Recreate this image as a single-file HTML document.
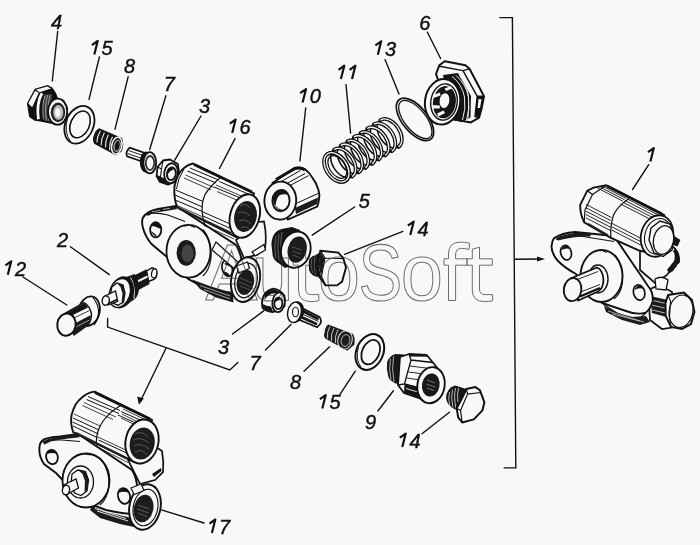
<!DOCTYPE html>
<html><head><meta charset="utf-8"><style>
html,body{margin:0;padding:0;background:#f8f8f8;width:700px;height:545px;overflow:hidden}
svg{position:absolute;left:0;top:0;filter:grayscale(1)}
.lb{font-family:"Liberation Sans",sans-serif;font-style:italic;font-size:20px;fill:#111;stroke:#111;stroke-width:0.45}
.ld{stroke:#111;stroke-width:1.4;fill:none;stroke-linecap:round}
.wm text{font-family:"Liberation Sans",sans-serif;font-size:79px;fill:none;stroke:#6e6e6e;stroke-width:1}
.wm path{fill:none;stroke:#6e6e6e;stroke-width:1}
.o{stroke:#111;stroke-width:1.6;fill:#f8f8f8;stroke-linejoin:round}
.k{fill:#1a1a1a;stroke:none}
.t{stroke:#111;stroke-width:1;fill:none}
</style></head><body>
<svg width="700" height="545" viewBox="0 0 700 545">
<!-- watermark -->


<!-- PARTS -->
<g id="p4">
 <path fill="#111" d="M26.9 103.4 L34.7 88.7 L47.5 85 L52.3 87.6 L56 93 L58 98.3 L64 100 L68 108 L67.5 116 L63 123.5 L57 125.3 L50 123.5 L40 121.5 L34.7 120.8 L29.2 117 Z"/>
 <path fill="#f8f8f8" d="M35.8 89.8 L47.2 86.4 L51 88.5 L39.6 92.2 Z"/>
 <path fill="#f8f8f8" d="M28.3 103.4 L35 91 L38.8 92.8 L32.2 107.2 Z"/>
 <path fill="none" stroke="#f8f8f8" stroke-width="2.8" d="M42 93.2 Q36.2 103 38.4 119.2"/>
 <path fill="#3a3a3a" d="M44.5 94.5 L52 94 L53 121.5 L45 121 Q41.5 108 44.5 94.5 Z"/>
 <path fill="none" stroke="#aaa" stroke-width="0.9" d="M45 95.5 Q41.5 106 43.5 119.5 M47.5 95 Q44.5 106 46.3 120.5 M50 95 Q47.2 106 49 121"/>
 <ellipse cx="57.6" cy="111.7" rx="9.6" ry="13" fill="#f8f8f8" stroke="#111" stroke-width="1.8"/>
 <ellipse cx="58" cy="112.4" rx="7.2" ry="9.8" fill="#222"/>
 <ellipse cx="58.3" cy="112.4" rx="5" ry="7.4" fill="#bbb"/>
 <ellipse cx="57.8" cy="112.6" rx="2.6" ry="4.4" fill="#f8f8f8"/>
</g>
<g id="p15a">
 <ellipse cx="79.4" cy="124.8" rx="14" ry="19.6" transform="rotate(24 79.4 124.8)" fill="none" stroke="#111" stroke-width="1.8"/>
 <ellipse cx="80" cy="124.4" rx="9.4" ry="14" transform="rotate(24 80 124.4)" fill="none" stroke="#111" stroke-width="1.6"/>
 <path fill="none" stroke="#111" stroke-width="1.0" d="M67.5 118 Q63.5 132 70.5 141.5"/>
</g>
<g id="p8a">
 <path fill="#151515" d="M99.1 128.3 L122.1 138 Q124.8 145 121.5 151.7 L115.5 155.3 L94.2 143.8 Q92 139 93.6 135.9 Q95 130.5 99.1 128.3 Z"/>
 <g fill="none" stroke="#eee" stroke-width="1.1" stroke-linecap="round">
  <path d="M100.2 131.2 Q97 137 96.9 142"/>
  <path d="M104.2 133 Q101 139 101.2 145"/>
  <path d="M108.2 135 Q105.2 141 105.5 147"/>
  <path d="M112.3 137.3 Q109.3 143 109.7 149.8"/>
 </g>
 <ellipse cx="116.8" cy="145.6" rx="5.2" ry="8.6" transform="rotate(12 116.8 145.6)" fill="none" stroke="#eee" stroke-width="1.2"/>
 <ellipse cx="117.2" cy="145.8" rx="3.2" ry="5.8" transform="rotate(12 117.2 145.8)" fill="none" stroke="#aaa" stroke-width="0.9"/>
</g>
 <ellipse cx="116.8" cy="145.6" rx="5" ry="8.4" transform="rotate(12 116.8 145.6)" fill="none" stroke="#f0f0f0" stroke-width="1.1"/>
 <ellipse cx="117.2" cy="145.8" rx="2.8" ry="5.4" transform="rotate(12 117.2 145.8)" fill="none" stroke="#999" stroke-width="0.9"/>
</g>
<g id="p7a">
 <path fill="#f8f8f8" stroke="#111" stroke-width="1.7" d="M129.6 147.6 L144.2 152.7 L141.2 161.2 L127 156.2 Q125 152 129.6 147.6 Z"/>
 <path fill="none" stroke="#111" stroke-width="0.9" d="M128.5 150.5 L143 155.5 M127.5 153.5 L142 158.5"/>
 <ellipse cx="146" cy="162" rx="6.2" ry="10.6" fill="#111"/>
 <ellipse cx="149.8" cy="162.8" rx="6.4" ry="10.6" fill="#f8f8f8" stroke="#111" stroke-width="1.8"/>
 <ellipse cx="150" cy="163" rx="4.2" ry="7" fill="none" stroke="#333" stroke-width="1.8"/>
 <circle cx="149.4" cy="163.3" r="1.8" fill="#f8f8f8"/>
</g>
<g id="p3a">
 <path fill="#f8f8f8" stroke="#111" stroke-width="1.8" stroke-linejoin="round" d="M157.5 167 L163 160.5 L170 159.5 L177.8 164 L179 172 L176.5 181 L168 184.6 L160 182 L156.6 176 Z"/>
 <path fill="#161616" d="M156.6 176 L160 182 L168 184.6 L167 180 L160.5 176.5 Z"/>
 <path fill="none" stroke="#111" stroke-width="1.1" d="M157.5 167 L161.5 169 L163 160.5 M161.5 169 L160.5 176.5 L156.6 176"/>
 <ellipse cx="171" cy="173.2" rx="6.8" ry="10" transform="rotate(8 171 173.2)" fill="#f8f8f8" stroke="#111" stroke-width="1.8"/>
 <ellipse cx="171.4" cy="173.8" rx="4.4" ry="6.4" transform="rotate(8 171.4 173.8)" fill="#f8f8f8" stroke="#111" stroke-width="1.9"/>
 <path fill="#111" d="M167.3 172 Q168.5 167.6 172 167.6 L173.5 170 Q170 170 167.5 175 Z"/>
</g>

<g id="p16">
 <!-- lug behind right -->
 <path fill="#f8f8f8" stroke="#111" stroke-width="1.7" d="M236 240 L258 222 L264 221.5 Q267 235 265 248 L257 255 L244 258 Z"/>
 <path fill="none" stroke="#111" stroke-width="1.0" d="M256 250 L263 246"/>
 <!-- flange plate -->
 <path fill="#f8f8f8" stroke="#111" stroke-width="1.9" d="M143 228 Q140.5 219 145 215 Q150 210.5 158 209 L176 206 L236 245 Q241 252 241.6 262 Q242 272 238 282 L232 292.5 Q220 293 205 287 L191 280.5 Q186 278 184 274 L166.4 256.5 L151.5 244 Q145.5 237 143 228 Z"/>
 <path fill="none" stroke="#111" stroke-width="1.2" d="M144.5 215.5 Q150 213 153 213.2 Q160 213 168 215 L185 221.5"/>
 <path fill="#1a1a1a" d="M146.5 214 Q150 211 155 210 L166 208 L176 206.5 L177 209 L166 211 L156 212.5 Q151 213.5 148 216 Z"/>
 <path fill="none" stroke="#ddd" stroke-width="0.7" d="M152 211.8 L160 210.3 M163 209.4 L170 208.3"/>
 <path fill="none" stroke="#111" stroke-width="1.3" d="M187 278 Q200 287 214 292 L231 296"/>
 <path fill="#1a1a1a" d="M192 279.5 L211 286.5 L233 293 L233.5 302.5 L216 297.5 L200 289 Z"/>
 <path fill="none" stroke="#ddd" stroke-width="0.7" d="M200 285.5 L230 296 M204 289.5 L230 299"/>
 <!-- small hole left -->
 <ellipse cx="155.7" cy="229.8" rx="5.6" ry="7.6" fill="#f8f8f8" stroke="#111" stroke-width="1.8"/>
 <path fill="#111" d="M151 226 Q153 222.5 157 222.7 Q160.6 224 161 229 L158.5 228 Q155 226 151 226 Z"/>
 <path fill="#111" d="M151 231 Q153 236 158 237 L155 234 Z"/>
 <!-- boss -->
 <ellipse cx="188.5" cy="251.2" rx="22" ry="26.4" fill="#f8f8f8" stroke="#111" stroke-width="1.8"/>
 <path fill="none" stroke="#111" stroke-width="1.2" d="M203 229.5 Q212 240 211 258 Q209.5 270 203 276"/>
 <path fill="none" stroke="#111" stroke-width="1.0" d="M184 226 L188 225.5 M191 226 L195 227.5"/>
 <ellipse cx="186.2" cy="252.9" rx="9.6" ry="12.8" fill="#1a1a1a"/>
 <ellipse cx="187.5" cy="253.5" rx="6" ry="9" fill="#444"/>
 <!-- right small hole -->
 <ellipse cx="227.2" cy="268.4" rx="5" ry="8" transform="rotate(-15 227.2 268.4)" fill="#f8f8f8" stroke="#111" stroke-width="1.7"/>
 <path fill="#111" d="M224 264 Q227 261 231 263 L232 268 Q228 265 224 264 Z"/>
 <path fill="#111" d="M223.5 271 Q225 276 230 276.5 L228 273 Z"/>
 <!-- bottom fitting -->
 <path fill="#f8f8f8" stroke="#111" stroke-width="1.2" d="M216 242 L240 264 L236 270 L212 250 Z"/>
 <ellipse cx="245.5" cy="279.6" rx="14.2" ry="22.6" transform="rotate(11.5 245.5 279.6)" fill="#f8f8f8" stroke="#111" stroke-width="1.9"/>
 <ellipse cx="246" cy="280.5" rx="11" ry="17.5" transform="rotate(11.5 246 280.5)" fill="none" stroke="#111" stroke-width="1.2"/>
 <ellipse cx="245.4" cy="282.4" rx="8.6" ry="12.6" transform="rotate(11.5 245.4 282.4)" fill="#1c1c1c"/>
 <path fill="none" stroke="#666" stroke-width="0.7" d="M240 278 L252 283 M239 282 L251 287 M240 286 L250 290"/>
 <path fill="#f8f8f8" stroke="#111" stroke-width="1.2" d="M236.5 266 L247.5 262 L249.5 268.5 L238.5 273 Z"/>
 <path fill="#f8f8f8" stroke="#111" stroke-width="1.3" d="M252 252 L264 244.5 L265.5 250 L255 256 Z"/>
 <!-- cylinder -->
 <path fill="#f8f8f8" stroke="#111" stroke-width="1.9" d="M193 163.5 L254 193.5 L236 237 L177 207 Q173.5 197 174.5 186 Q177.5 173 184 168 Q188 164.5 193 163.5 Z"/>
 <path fill="none" stroke="#111" stroke-width="3.0" d="M194 164.5 L252 192"/>
 <path fill="none" stroke="#111" stroke-width="1.0" d="M190 168 L218.6 180 M187.5 171 L216 183 M214 187 L250 202 M219.3 181.5 L254 196.5 M175.5 190 L203 201.5 M175 195 L202.5 207 M175.2 200 L202.5 211.5 M203 212 L237 227 M203 216 L236 231 M203.5 220.5 L236 235"/>
 <path fill="none" stroke="#111" stroke-width="1.2" d="M220 178 Q211 185 205 194.6 Q200.5 205 202.8 216.4 Q203.5 222 205.5 226.5"/>
 <path fill="none" stroke="#111" stroke-width="1.0" d="M184 169 Q177.5 179 176.5 189"/>
 <path fill="none" stroke="#222" stroke-width="2.4" d="M178 208 L230 232.5"/>
 <path fill="none" stroke="#111" stroke-width="0.8" d="M185.5 175 L214 187.5 M184 178 L211 190 M217 191.5 L246 204 M176 205 L202 216.5 M203.5 225 L234 239 M216 185 L247 198.5"/>
 <ellipse cx="244.8" cy="216" rx="14.6" ry="22.2" transform="rotate(16 244.8 216)" fill="#f8f8f8" stroke="#111" stroke-width="1.9"/>
 <ellipse cx="245.5" cy="216.5" rx="11.2" ry="15.6" transform="rotate(12 245.5 216.5)" fill="#1c1c1c"/>
 <path fill="none" stroke="#666" stroke-width="0.8" d="M240 206 Q246 202 250 208 M238 213 Q244 210 250 216 M239 221 Q245 218 251 224 M241 228 Q246 225 250 230"/>
</g>

<g id="p10">
 <path fill="#f8f8f8" stroke="#111" stroke-width="1.9" d="M272.5 183 L294.6 167.8 Q300 166.5 305.3 169.5 Q309.5 172.5 312.5 177.9 Q317 184 318.4 189.8 Q320 195 319 199.4 Q318.5 203.5 317.2 206.5 L288 219.5 Z"/>
 <path fill="none" stroke="#111" stroke-width="3.0" d="M276 179.5 L295 168.5 Q301 167 305 170"/>
 <path fill="none" stroke="#111" stroke-width="1.0" d="M281 181.6 L300.5 170.4 M285 184.6 L305.3 173.3 M288 186.6 L308.5 175.6"/>
 <path fill="#1c1c1c" d="M295 208 L318 197.5 Q318 201 317 204 L296 214 Z"/>
 <path fill="none" stroke="#111" stroke-width="1.0" d="M295.5 203.8 L318.3 193.4"/>
 <ellipse cx="280.3" cy="200.6" rx="15.9" ry="19" transform="rotate(4 280.3 200.6)" fill="#f8f8f8" stroke="#111" stroke-width="1.9"/>
 <ellipse cx="281" cy="200.6" rx="8.6" ry="10.6" transform="rotate(4 281 200.6)" fill="#f8f8f8" stroke="#111" stroke-width="1.9"/>
 <path fill="#161616" d="M273 199 Q273.5 191.5 280 190.5 Q286 190.5 288.5 195 Q284 193.5 280 195 Q276.5 197 275.5 206 Q273 204 273 199 Z"/>
 <path fill="none" stroke="#111" stroke-width="1.0" d="M275.5 206 Q278 210 283 210.5"/>
</g>
<g id="p5">
 <path fill="#161616" d="M271.4 244.3 Q272 236 275.3 232.7 Q278 229.5 281.7 228.9 L292 226.9 L300 230 L302 262 L285 268 L279.1 263.6 Q274 261 272.7 255.8 Z"/>
 <path fill="none" stroke="#777" stroke-width="0.8" d="M276 236 Q273.5 246 276 258 M279 234 Q276.5 246 279 260 M282 232 Q279.5 245 282 262"/>
 <ellipse cx="295.8" cy="249.7" rx="14.6" ry="18.3" transform="rotate(14 295.8 249.7)" fill="#f8f8f8" stroke="#111" stroke-width="1.9"/>
 <ellipse cx="297.2" cy="249.6" rx="9.4" ry="13.4" transform="rotate(14 297.2 249.6)" fill="#1c1c1c"/>
 <path fill="none" stroke="#666" stroke-width="0.7" d="M292 247 L302 250 M292 251 L301 254 M293 255 L300 258"/>
</g>
<g id="p14a">
 <path fill="#161616" d="M308.7 262 Q310 256 315 255.5 L322 251 L325 284 L318 277 Q311 276 309 270 Z"/>
 <path fill="none" stroke="#777" stroke-width="0.7" d="M312 258 Q310 265 312.5 273 M315 256.5 Q313 265 315.5 275"/>
 <path fill="#f8f8f8" stroke="#111" stroke-width="1.9" d="M320.3 250.7 L338.3 252.6 L343.4 258.4 L346 267.4 L342.1 281.6 L337 285.4 L325.4 285.4 L320.3 277.7 L317.7 266.1 Z"/>
 <path fill="none" stroke="#111" stroke-width="1.2" d="M321 251.5 L325 258 L339 258.5 L343.5 258.6 M325 258 L321.5 276.5 L325.5 285"/>
 <path fill="#1a1a1a" d="M320.5 252 L324.6 258.5 L321.2 276 L318.5 266 Z"/>
</g>

<g id="p11">
 <path fill="none" stroke="#111" stroke-width="1.5" d="M398.6 146.9 A16.2 10.4 56 0 1 380.4 120.1 M391.9 151.2 A16.2 10.4 56 0 1 373.8 124.3 M385.3 155.4 A16.2 10.4 56 0 1 367.2 128.5 M378.7 159.6 A16.2 10.4 56 0 1 360.6 132.8 M372.1 163.9 A16.2 10.4 56 0 1 353.9 137.0 M365.4 168.1 A16.2 10.4 56 0 1 347.3 141.3 M358.8 172.4 A16.2 10.4 56 0 1 340.7 145.5 M352.2 176.6 A16.2 10.4 56 0 1 334.1 149.7 M345.6 180.8 A16.2 10.4 56 0 1 327.4 154.0"/>
 <path fill="none" stroke="#111" stroke-width="3.8" stroke-linecap="round" d="M380.4 120.1 A16.2 10.4 56 0 1 398.6 146.9 M373.8 124.3 A16.2 10.4 56 0 1 391.9 151.2 M367.2 128.5 A16.2 10.4 56 0 1 385.3 155.4 M360.6 132.8 A16.2 10.4 56 0 1 378.7 159.6 M353.9 137.0 A16.2 10.4 56 0 1 372.1 163.9 M347.3 141.3 A16.2 10.4 56 0 1 365.4 168.1 M340.7 145.5 A16.2 10.4 56 0 1 358.8 172.4 M334.1 149.7 A16.2 10.4 56 0 1 352.2 176.6 M327.4 154.0 A16.2 10.4 56 0 1 345.6 180.8"/>
 <path fill="none" stroke="#f4f4f4" stroke-width="1.3" d="M380.4 120.1 A16.2 10.4 56 0 1 398.6 146.9 M373.8 124.3 A16.2 10.4 56 0 1 391.9 151.2 M367.2 128.5 A16.2 10.4 56 0 1 385.3 155.4 M360.6 132.8 A16.2 10.4 56 0 1 378.7 159.6 M353.9 137.0 A16.2 10.4 56 0 1 372.1 163.9 M347.3 141.3 A16.2 10.4 56 0 1 365.4 168.1 M340.7 145.5 A16.2 10.4 56 0 1 358.8 172.4 M334.1 149.7 A16.2 10.4 56 0 1 352.2 176.6 M327.4 154.0 A16.2 10.4 56 0 1 345.6 180.8"/>
 <ellipse cx="336.5" cy="167.4" rx="16.2" ry="10.4" transform="rotate(56 336.5 167.4)" fill="none" stroke="#111" stroke-width="3.8"/>
 <ellipse cx="336.5" cy="167.4" rx="16.2" ry="10.4" transform="rotate(56 336.5 167.4)" fill="none" stroke="#f4f4f4" stroke-width="1.3"/>
 <ellipse cx="337.3" cy="167" rx="12.6" ry="7.6" transform="rotate(56 337.3 167)" fill="none" stroke="#111" stroke-width="1.2"/>
</g>
<g id="p13">
 <ellipse cx="415" cy="119.4" rx="25.3" ry="12.6" transform="rotate(51 415 119.4)" fill="none" stroke="#111" stroke-width="1.7"/>
 <ellipse cx="415.3" cy="119.6" rx="23" ry="10.6" transform="rotate(51 415.3 119.6)" fill="none" stroke="#111" stroke-width="1.3"/>
</g>
<g id="p6">
 <path fill="#f8f8f8" stroke="#111" stroke-width="2.0" stroke-linejoin="round" d="M439.3 65.3 L444.8 61.2 L465.4 65.3 L469.5 68.8 L484 96.3 L481.5 109 L479.1 117.6 L470.9 122.4 L452 119 L436 74 Z"/>
 <path fill="none" stroke="#111" stroke-width="1.4" d="M439.6 66.2 L463 70.6 L469.5 68.8 M463 70.6 L477.2 96.2 L484 96.3 M477.2 96.2 L475 116.5 L479.1 117.6"/>
 <path fill="#111" d="M477.2 96.2 L484 96.3 L481.5 109 L479.1 117.6 L475 116.5 Z"/>
 <path fill="#f8f8f8" d="M478.5 99 L481.5 99.2 L480 108 L477.6 108 Z"/>
 <path fill="#151515" d="M443 75 L458 73 L471 96 L470.5 117.5 L462 122 L452 120 Z"/>
 <path fill="none" stroke="#e8e8e8" stroke-width="1.0" d="M452 76.5 Q462 84 464.5 97 Q466 109 462.5 120 M456 75.5 Q466 84 468.5 97 Q470 109 466.5 120.5 M459.5 75.5 Q467 84 468.5 97 Q469 108 468 118.5"/>
 
 <ellipse cx="442.6" cy="101.8" rx="17.6" ry="22.8" transform="rotate(8 442.6 101.8)" fill="#f8f8f8" stroke="#111" stroke-width="2.0"/>
 <ellipse cx="444" cy="102" rx="13.2" ry="18.2" transform="rotate(8 444 102)" fill="#f8f8f8" stroke="#111" stroke-width="1.4"/>
 <ellipse cx="444.4" cy="102.2" rx="11.4" ry="16.2" transform="rotate(8 444.4 102.2)" fill="#161616"/>
 <ellipse cx="444.5" cy="100.6" rx="5.4" ry="8" transform="rotate(8 444.5 100.6)" fill="#f8f8f8" stroke="#111" stroke-width="1.0"/>
 <path fill="#f8f8f8" d="M433 95 L440 92.5 L440.5 95.5 L433.5 98 Z M432.5 105 L439.8 105.5 L439.8 108.5 L433 108.5 Z M437 113.5 L443.5 110.5 L445 113 L438.6 116.5 Z M444.5 88.5 L451 86 L452 88.5 L446 91 Z"/>
</g>

<g id="p1">
 <!-- back lug right -->
 <path fill="#f8f8f8" stroke="#111" stroke-width="1.7" d="M640 250 L672 246 Q680 252 679 262 L672 268 L667 275 L655 283 L640 270 Z"/>
 <path fill="#111" d="M668 269 L676 262 L677 266 L670 273 Z"/>
 <path fill="#161616" d="M675 249 Q680 254 679 262 L673 271 L669 273 L667 270 L674 261 Q676 255 673 251 Z"/>
 <!-- bottom right bolt shank -->
 <path fill="#f8f8f8" stroke="#111" stroke-width="1.7" d="M648 290 L657 286 Q666 288 672 292 L675 327 L662 329 L650 320 Z"/>
 <path fill="#1c1c1c" d="M650 296 L668 300 L670 318 L652 313 Z"/>
 <path fill="none" stroke="#ddd" stroke-width="0.8" d="M651 300 L668 304 M651.5 305 L669 309 M652 310 L669.5 314"/>
 <path fill="#f8f8f8" stroke="#111" stroke-width="1.3" d="M655 279 Q662 275 668 280 L666 290 L656 289 Z"/>
 <!-- flange -->
 <path fill="#f8f8f8" stroke="#111" stroke-width="1.9" d="M553.9 238.3 Q562 233 575 232 L614 236 L648 286 Q654 293 652.5 302 Q650 310 645 313 Q636 315 626 311 L602 303 Q585 292 576 274 Q565 268 558 261 Q551 253 551.6 246 Q552 241 553.9 238.3 Z"/>
 <path fill="none" stroke="#111" stroke-width="1.2" d="M556 239.5 Q565 236.5 580 236 L614 241.5"/>
 <path fill="#1c1c1c" d="M556 238 Q566 233 582 232.5 L592 233 L590 236.5 Q575 236 558 240.5 Z"/>
 <path fill="none" stroke="#111" stroke-width="1.2" d="M603 304 L617 313 Q627 318 640 318 L646 313"/>
 <path fill="#1c1c1c" d="M604 306 L618 313 L632 317 L646 316 L650 322 L640 325 L622 320 L606 312 Z"/>
 <path fill="none" stroke="#ddd" stroke-width="0.7" d="M608 311 L640 321 M612 314 L644 322"/>
 <ellipse cx="566" cy="252.7" rx="5.3" ry="7.4" transform="rotate(-15 566 252.7)" fill="#f8f8f8" stroke="#111" stroke-width="1.7"/>
 <path fill="#111" d="M561.5 250 Q563 245.5 567.5 245.6 L570 249 Q566 247.5 561.5 250 Z"/>
 <ellipse cx="639.1" cy="292.5" rx="5.6" ry="7.8" transform="rotate(-15 639.1 292.5)" fill="#f8f8f8" stroke="#111" stroke-width="1.7"/>
 <path fill="#111" d="M634.5 290 Q636 285 641 285.3 L643.5 289 Q639 287 634.5 290 Z"/>
 <!-- boss -->
 <ellipse cx="601.5" cy="276" rx="21" ry="26" fill="#f8f8f8" stroke="#111" stroke-width="1.8"/>
 <path fill="none" stroke="#111" stroke-width="1.2" d="M615 255 Q624 266 622.5 282 Q621 294 614 299"/>
 <path fill="none" stroke="#111" stroke-width="1.0" d="M596 251 L600 250 M603 251 L607 252.5"/>
 <ellipse cx="598" cy="279" rx="10" ry="14" fill="#f8f8f8" stroke="#111" stroke-width="1.4"/>
 <!-- pin -->
 <path fill="#f8f8f8" stroke="#111" stroke-width="1.8" d="M571.6 278 L597 267.5 Q603 270 603.5 280 Q603 289 598 291.5 L578.2 300.6 Z"/>
 <path fill="none" stroke="#111" stroke-width="2.4" d="M580 296.5 L600 288"/>
 <path fill="none" stroke="#111" stroke-width="0.9" d="M576 280 L598 271.5 M578 293 L600 284.5"/>
 <ellipse cx="572.6" cy="289.6" rx="8.8" ry="11.6" transform="rotate(8 572.6 289.6)" fill="#f8f8f8" stroke="#111" stroke-width="1.9"/>
 <!-- bolt head bottom right -->
 <path fill="#f8f8f8" stroke="#111" stroke-width="1.9" d="M668 295 L684 292.5 L692 300 L694.5 312 L691 324 L682 329 L671 327 L665.7 316 L665.5 303 Z"/>
 <ellipse cx="681" cy="311.3" rx="11.8" ry="16.4" transform="rotate(10 681 311.3)" fill="#f8f8f8" stroke="#111" stroke-width="1.2"/>
 <path fill="none" stroke="#111" stroke-width="1.1" d="M668 295 L670.5 301 L669.5 318 L671 327"/>
 <!-- cylinder -->
 <path fill="#f8f8f8" stroke="#111" stroke-width="1.9" d="M580.2 204.9 L587.3 190.7 L593.6 187.6 L606.2 185.2 L664.3 215.1 L645 252 L639.2 250.5 L610.9 237.9 L584.2 222.2 Q580 214 580.2 204.9 Z"/>
 <path fill="none" stroke="#111" stroke-width="3.0" d="M607 186 L662 214"/>
 <path fill="none" stroke="#111" stroke-width="1.2" d="M587.3 190.7 L592.5 194.5 L585 210 L584.2 222.2 M592.5 194.5 L606.2 185.2"/>
 <path fill="none" stroke="#111" stroke-width="0.9" d="M604.0 186.9 L626.4 198.5 M600.8 187.5 L624.6 199.8 M597.6 188.1 L622.7 201.1 M586.0 204.4 L611.6 217.6 M586.0 207.8 L610.8 220.6 M586.0 211.2 L610.5 223.8 M586.0 214.6 L610.5 227.2 M586.0 217.9 L610.5 230.6 M627.4 199.0 L658.0 214.8 M625.1 200.6 L656.9 217.0 M622.8 202.2 L655.8 219.2 M620.4 203.9 L654.6 221.5 M611.5 223.2 L645.0 240.5 M611.5 226.6 L643.7 243.2 M611.5 230.0 L642.4 245.9"/>
 <path fill="none" stroke="#111" stroke-width="1.2" d="M629 198.6 Q618 206 613.5 215 Q610 226 610.9 237.9"/>
 <path fill="none" stroke="#222" stroke-width="2.2" d="M588 224 L608 235.5"/>
 
 <!-- washer + bolt head -->
 <ellipse cx="657" cy="236" rx="16" ry="21" transform="rotate(14 657 236)" fill="#f8f8f8" stroke="#111" stroke-width="1.8"/>
 <ellipse cx="658" cy="236.3" rx="13.2" ry="18" transform="rotate(14 658 236.3)" fill="none" stroke="#111" stroke-width="1.1"/>
 <path fill="#f8f8f8" stroke="#111" stroke-width="1.4" d="M651 228 L660 221 L670 224 L674 236 L672 250 L663 256.5 L654 253 L649 240 Z"/>
 <ellipse cx="663.5" cy="240" rx="10" ry="14.5" transform="rotate(12 663.5 240)" fill="#f8f8f8" stroke="#111" stroke-width="1.2"/>
 <path fill="#161616" d="M673.5 235.5 L680.4 240 L677.5 246.5 L673 245 Z"/>
</g>

<path d="M537 256.6 L545 259 L537 261.4 Z" fill="#111"/>
<g id="p12">
 <ellipse cx="89" cy="311.2" rx="10.6" ry="15" transform="rotate(14 89 311.2)" fill="#f8f8f8" stroke="#111" stroke-width="1.8"/>
 <path fill="none" stroke="#111" stroke-width="1.2" d="M93 297.5 Q99 305 98.6 313 Q98 320 94 325"/>
 <path fill="#f8f8f8" stroke="#111" stroke-width="1.4" d="M64.5 313.5 L84 302.5 Q90 306 91.5 314 Q91.5 321 88 325 L74 335 Z"/>
 <path fill="#161616" d="M63.5 314.5 L84 303 Q87 304.5 88 307.5 L66 318.5 Z"/>
 <path fill="#1c1c1c" d="M69 326.5 L90.8 315 Q91 321 88 325 L74 335 Z"/>
 <path fill="none" stroke="#ccc" stroke-width="0.7" d="M71 329.5 L89.5 320"/>
 <path fill="none" stroke="#111" stroke-width="0.8" d="M67.5 321 L89.5 310.5"/>
 <ellipse cx="66.5" cy="324.6" rx="9.2" ry="11.2" transform="rotate(8 66.5 324.6)" fill="#f8f8f8" stroke="#111" stroke-width="2.0"/>
</g>
<g id="p2">
 <path fill="#f8f8f8" stroke="#111" stroke-width="1.4" d="M146.6 271 L152 267.8 Q156.5 268.5 157 273.5 Q156.5 278.5 153.5 279.5 L148.5 281.5 Z"/>
 <ellipse cx="154.2" cy="273.4" rx="2.6" ry="4.6" transform="rotate(10 154.2 273.4)" fill="#f8f8f8" stroke="#111" stroke-width="1.2"/>
 <path fill="#161616" d="M133 276 L146.6 269.3 L149.6 284 L137.5 290.5 Z"/>
 <path fill="none" stroke="#f0f0f0" stroke-width="2.0" d="M137.5 281.5 L147.5 276.5"/>
 <path fill="#161616" d="M121 279 L134.5 274 Q139 280 139 287 Q139 295 135 299 L126 305 Z"/>
 <path fill="none" stroke="#f0f0f0" stroke-width="0.9" d="M127 279 Q132 287 130.5 301 M130.5 277.5 Q135.5 286 134 299"/>
 <ellipse cx="121.5" cy="292.4" rx="12" ry="16.4" transform="rotate(18 121.5 292.4)" fill="#141414"/>
 <ellipse cx="119.8" cy="293" rx="10.2" ry="14.8" transform="rotate(18 119.8 293)" fill="#f8f8f8" stroke="#111" stroke-width="1.3"/>
 <path fill="#f8f8f8" stroke="#111" stroke-width="1.3" d="M111.8 287 L117 283 L123 285 L125 293 L123.5 302 L118 305.2 L112.5 303 L110.5 295 Z"/>
 <path fill="#1a1a1a" d="M117 283 L123 285 L125 293 L123.5 302 L121.5 302.5 L122.5 293.5 L120.5 287 Z"/>
 <path fill="#f8f8f8" stroke="#111" stroke-width="1.3" d="M104 296.5 L115.5 291 L117.7 301.4 L108 305 Z"/>
 <path fill="none" stroke="#111" stroke-width="1.8" d="M108.5 303.5 L117.3 299.5"/>
 <ellipse cx="105.8" cy="300.6" rx="3.6" ry="4.7" transform="rotate(10 105.8 300.6)" fill="#f8f8f8" stroke="#111" stroke-width="1.4"/>
</g>
<g id="p3b">
 <path fill="#f8f8f8" stroke="#111" stroke-width="1.8" d="M264.1 295 Q267 290 273.2 288.6 Q280 289 284.5 296 L284.5 306 L273.2 312.1 Q266 311.5 262.5 307.9 Q261 301 264.1 295 Z"/>
 <path fill="#161616" d="M264.5 294.5 Q268 290 273.5 289.5 Q279 290 282 294 Q276 292.5 271 294 Q267 296 264.5 300 Z"/>
 <path fill="#161616" d="M262.8 304 Q266 306 271 306.5 L273 311.5 Q266 311 263 307.5 Z"/>
 <ellipse cx="278.6" cy="302.3" rx="6.2" ry="9.9" transform="rotate(8 278.6 302.3)" fill="#f8f8f8" stroke="#111" stroke-width="1.8"/>
 <ellipse cx="278.3" cy="303.4" rx="4" ry="5.8" fill="#f8f8f8" stroke="#111" stroke-width="1.7"/>
 <path fill="#111" d="M274.5 301 Q276 297.5 279 297.6 L280 300 Q277 300 274.5 303 Z"/>
</g>
<g id="p7b">
 <path fill="#f8f8f8" stroke="#111" stroke-width="1.7" d="M299 306.5 L319.5 317 Q322 320.5 320.4 323.5 L317.2 327.2 L296 318.5 Z"/>
 <path fill="#161616" d="M300 308 L319 317.8 L318 320.5 L299.5 311 Z M298 314 L317.5 323 L316.5 325.5 L297 316.8 Z"/>
 <path fill="none" stroke="#111" stroke-width="0.9" d="M299 312.5 L318.5 321.5"/>
 <ellipse cx="296.5" cy="312" rx="7.6" ry="10.8" transform="rotate(12 296.5 312)" fill="#141414"/>
 <ellipse cx="294.5" cy="312.3" rx="6.8" ry="10.3" transform="rotate(12 294.5 312.3)" fill="#f8f8f8" stroke="#111" stroke-width="1.4"/>
 <ellipse cx="295.5" cy="312" rx="3" ry="4.8" fill="none" stroke="#111" stroke-width="1.1"/>
</g>
<g id="p8b">
 <path fill="#1c1c1c" d="M328.1 324.5 L353.1 334.1 Q355.5 339 354.3 344.8 L347.2 350.8 L325.7 338.8 Q323 336 324.5 332.9 Q325 327 328.1 324.5 Z"/>
 <g fill="none" stroke="#d8d8d8" stroke-width="0.9">
  <path d="M330 326.5 Q326.5 332 327.5 338.5"/>
  <path d="M334 328 Q330.5 334 331.5 341"/>
  <path d="M338 329.5 Q334.5 336 335.5 343"/>
 </g>
 <ellipse cx="345" cy="340" rx="7.2" ry="9.4" transform="rotate(14 345 340)" fill="none" stroke="#e0e0e0" stroke-width="1.0"/>
 <ellipse cx="345.5" cy="340.5" rx="4.3" ry="6" transform="rotate(14 345.5 340.5)" fill="none" stroke="#bbb" stroke-width="0.9"/>
</g>
<g id="p15b">
 <ellipse cx="369.8" cy="352" rx="13.4" ry="18.6" transform="rotate(24 369.8 352)" fill="none" stroke="#111" stroke-width="2.0"/>
 <ellipse cx="370.7" cy="352.2" rx="8.6" ry="12.8" transform="rotate(24 370.7 352.2)" fill="none" stroke="#111" stroke-width="1.8"/>
 <path fill="none" stroke="#111" stroke-width="1.0" d="M358.5 346 Q355 360 361 367"/>
</g>
<g id="p9">
 <path fill="#161616" d="M387.2 361.7 Q390 355 395.5 353.9 L404 354.5 L404 384 L395.5 383.5 Q389 380.5 388.3 376.6 Q386 369 387.2 361.7 Z"/>
 <path fill="none" stroke="#bbb" stroke-width="0.9" d="M390.5 358.5 Q388.5 369 391 380 M393.5 356.5 Q391.5 369 394 382"/>
 <path fill="#f8f8f8" stroke="#111" stroke-width="1.8" stroke-linejoin="round" d="M400 357 L409 354 L426.5 354.8 L437 367.5 L425 399.5 L420.5 398.7 L404 393 L398 385 Z"/>
 <path fill="#151515" d="M409 354.3 L426.5 354.8 L428 356.8 L410 356.5 Z"/>
 <path fill="none" stroke="#111" stroke-width="1.3" d="M409 354 L411 360 L404.5 384 L398 385 M411 360 L433 362.5 M404.5 384 L424 389"/>
 <path fill="#151515" d="M404.5 384 L424 389 L423 399 L420.5 398.7 L404 393 Z"/>
 <path fill="none" stroke="#111" stroke-width="0.9" d="M410 366 L430 368.5 M408.5 372 L428 374.5 M407 378 L426.5 381"/>
 <path fill="none" stroke="#eee" stroke-width="0.9" d="M406 388.5 L423 393.5"/>
 <ellipse cx="431" cy="385.2" rx="13.6" ry="18.2" transform="rotate(10 431 385.2)" fill="#f8f8f8" stroke="#111" stroke-width="1.9"/>
 <ellipse cx="430.8" cy="385" rx="8.8" ry="11.6" transform="rotate(10 430.8 385)" fill="#1a1a1a"/>
 <path fill="none" stroke="#888" stroke-width="0.8" d="M427 380 L435 383 M426.5 384 L435 387 M427 388 L434 390.5"/>
</g>
<g id="p14b">
 <path fill="#161616" d="M446 398 Q446.5 388.5 455 385.6 L466.3 389.1 L458 408.5 L456.5 410 Q447 406.5 446 398 Z"/>
 <path fill="none" stroke="#ccc" stroke-width="0.9" d="M449.5 392 Q447.8 399 450 406.5 M452.5 389.5 Q450.5 398 453 407.5 M455.5 388 Q453.5 397 456 408.5 M458.5 388 Q456.8 395 458 402"/>
 <path fill="#f8f8f8" stroke="#111" stroke-width="2.0" stroke-linejoin="round" d="M466.3 389.1 L475.4 387.1 L479.9 390.2 L484.4 402.3 L482.4 410.4 L473.8 419.4 L462.2 422.5 L458.2 417.4 L456.7 408.3 L464.7 392.7 Z"/>
 <path fill="none" stroke="#111" stroke-width="1.2" d="M466.3 389.1 L467.6 394 L481 392.5 M467.6 394 L460.5 410.5 L462.2 422.5 M460.5 410.5 L456.7 408.3"/>
</g>

<g id="p17">
 <!-- right lug -->
 <path fill="#f8f8f8" stroke="#111" stroke-width="1.7" d="M128 460 L156 447 L162 451 Q164 462 163 472 L155 480 L140 484 Z"/>
 <path fill="#111" d="M152 474 L161 468 L161.5 471 L154 477 Z"/>
 <!-- flange -->
 <path fill="#f8f8f8" stroke="#111" stroke-width="1.9" d="M39.5 447 Q40 441 45 439 Q52 436.5 60 436.5 L78 434 L132 470 Q138 480 137 492 L134 514 Q124 514 106 510 L90 504 L76 494 L56 473 L44 464 Q38.5 456 39.5 447 Z"/>
 <path fill="none" stroke="#111" stroke-width="1.2" d="M42 441.5 Q52 439.5 62 440 L80 441.5"/>
 <path fill="#1a1a1a" d="M42.5 442 Q48 438.5 56 437.2 L72 435.2 L79 434.6 L79.5 437.2 L71 438.2 L57 439.8 Q49.5 441.2 44.5 444.5 Z"/>
 <path fill="#1c1c1c" d="M92 506 L106 512 L128 517 L136 522 L134 527 L120 524 L100 518 L90 510 Z"/>
 <path fill="none" stroke="#f8f8f8" stroke-width="0.9" d="M97 511 L128 521 M95 508.5 L126 518.5"/>
 <ellipse cx="52" cy="457" rx="5.8" ry="7.2" transform="rotate(-15 52 457)" fill="#f8f8f8" stroke="#111" stroke-width="1.8"/>
 <path fill="#111" d="M47 454 Q49 449.5 54 450 L57 454 Q52 452 47 454 Z"/>
 <ellipse cx="124" cy="496" rx="6" ry="8" transform="rotate(-15 124 496)" fill="#f8f8f8" stroke="#111" stroke-width="1.8"/>
 <path fill="#111" d="M118.5 493 Q120.5 488 126 488.5 L129 493 Q123.5 490.5 118.5 493 Z"/>
 <!-- boss -->
 <ellipse cx="86" cy="480.5" rx="23.5" ry="27" fill="#f8f8f8" stroke="#111" stroke-width="1.8"/>
 <path fill="none" stroke="#111" stroke-width="1.2" d="M100 458 Q110 470 109 486 Q107.5 499 100 505"/>
 <path fill="none" stroke="#111" stroke-width="1.0" d="M76 455.5 L82 454 M85 454 L91 455"/>
 <ellipse cx="80.5" cy="482" rx="13" ry="16" fill="#f8f8f8" stroke="#111" stroke-width="1.3"/>
 <path fill="#f8f8f8" stroke="#111" stroke-width="1.3" d="M72 474 L78 470 L85.5 471.5 L88.5 480 L87 491 L81 495.5 L74.5 493 L71 484 Z"/>
 <path fill="#1a1a1a" d="M78 470 L85.5 471.5 L88.5 480 L87 491 L84.5 491.5 L85 481 L82.5 474 Z"/>
 <path fill="#f8f8f8" stroke="#111" stroke-width="1.3" d="M63.5 485 L76 479 L78.5 488 L67.5 494 Z"/>
 <ellipse cx="66" cy="490" rx="3.6" ry="4.8" transform="rotate(10 66 490)" fill="#f8f8f8" stroke="#111" stroke-width="1.4"/>
 <!-- right fitting -->
 <ellipse cx="145" cy="507" rx="15.5" ry="23" transform="rotate(12 145 507)" fill="#f8f8f8" stroke="#111" stroke-width="1.9"/>
 <ellipse cx="145.5" cy="507.5" rx="12.2" ry="18.5" transform="rotate(12 145.5 507.5)" fill="none" stroke="#111" stroke-width="1.1"/>
 <ellipse cx="143.5" cy="508.5" rx="9.8" ry="14" transform="rotate(12 143.5 508.5)" fill="#1c1c1c"/>
 <path fill="none" stroke="#777" stroke-width="0.7" d="M138 505 L149 509 M137.5 509 L148.5 513 M138 513 L147 516.5"/>
 <path fill="#f8f8f8" stroke="#111" stroke-width="1.2" d="M131 488 L141 484 L144 490.5 L134 494.5 Z"/>
 <!-- cylinder -->
 <path fill="#f8f8f8" stroke="#111" stroke-width="1.9" d="M94.4 391.6 L152 420 L134 462 L73.1 432 Q70 423 71.6 415 Q74.5 403 81.2 398.2 Q87 392.5 94.4 391.6 Z"/>
 <path fill="none" stroke="#111" stroke-width="3.0" d="M95 392.5 L150 419"/>
 <path fill="none" stroke="#111" stroke-width="1.0" d="M88 396.5 L120 410.5 M86.5 399.5 L119 413.5 M118 415 L149 429 M121 411.5 L151.5 425 M73 418 L99 430 M72.5 422 L98.5 434 M73 426 L98 438 M98.5 440 L131 455 M98 444 L129.5 459"/>
 <path fill="none" stroke="#111" stroke-width="1.2" d="M120.8 405.6 Q113 410 109 414.4 Q102 421 98.8 429 Q95.5 437 96.6 446.7"/>
 <path fill="none" stroke="#222" stroke-width="2.4" d="M76 433 L126 458"/>
 <path fill="none" stroke="#111" stroke-width="0.8" d="M84 402.5 L116 417 M82.5 405.5 L113 419.5 M123 409 L150 422 M122 414 L147 426.5 M74 414 L100 426 M98 437 L130 452 M99 448 L128 462.5 M121 418 L146 430"/>
 <path fill="none" stroke="#777" stroke-width="0.7" d="M136 428 Q143 425 149 432 M133 455 Q139 452 146 458"/>
 <ellipse cx="142" cy="441.5" rx="16.4" ry="22.2" transform="rotate(12 142 441.5)" fill="#f8f8f8" stroke="#111" stroke-width="1.9"/>
 <ellipse cx="142.2" cy="443.5" rx="12.4" ry="16.2" transform="rotate(12 142.2 443.5)" fill="#1c1c1c"/>
 <path fill="none" stroke="#666" stroke-width="0.8" d="M135 434 Q142 430 148 437 M133.5 440 Q141 436 149 443 M134 446 Q141 442 149 449 M135 452 Q141 448 147.5 455"/>
</g>

<path d="M137.2 396.5 L138.9 404.8 L143.8 398.5 Z" fill="#111"/>
<!-- labels -->
<g class="lb">
<text x="51.1" y="29.3">4</text>
<text x="101.5" y="55.3">5</text>
<text x="124.0" y="73.1">8</text>
<text x="163.7" y="91">7</text>
<text x="199.0" y="113.1">3</text>
<text x="239.4" y="133.9">6</text>
<text x="309.8" y="103.4">0</text>
<text x="385.0" y="55.6">3</text>
<text x="419.3" y="29.6">6</text>
<text x="358.7" y="208">5</text>
<text x="417.5" y="235.9">4</text>
<text x="57.0" y="246.5">2</text>
<text x="15.0" y="275.6">2</text>
<text x="217.9" y="354">3</text>
<text x="249.5" y="370.2">7</text>
<text x="290.0" y="389">8</text>
<text x="329.5" y="409.4">5</text>
<text x="365.0" y="428.8">9</text>
<text x="409.5" y="447.9">4</text>
<text x="219.1" y="533.8">7</text>
</g>
<path fill="none" stroke="#111" stroke-width="2.2" stroke-linejoin="round" stroke-linecap="butt" d="M94.3 54.4 L97.7 41.0 L91.9 45.1 M232.2 133.0 L235.6 119.6 L229.8 123.7 M302.6 102.5 L306.0 89.1 L300.2 93.2 M340.9 79.1 L344.3 65.7 L338.5 69.8 M352.0 79.1 L355.4 65.7 L349.6 69.8 M377.8 54.7 L381.2 41.3 L375.4 45.4 M650.4 161.5 L653.8 148.1 L648.0 152.2 M410.3 235.0 L413.7 221.6 L407.9 225.7 M7.8 274.7 L11.2 261.3 L5.4 265.4 M322.3 408.5 L325.7 395.1 L319.9 399.2 M402.3 447.0 L405.7 433.6 L399.9 437.7 M211.9 532.9 L215.3 519.5 L209.5 523.6"/>
<!-- leaders -->
<g class="ld">
<path d="M57.7 31.4 L52.3 81"/>
<path d="M99.4 57 L89 99.4"/>
<path d="M128.2 76.7 L115 129.2"/>
<path d="M165.9 95.8 L149.7 149.5"/>
<path d="M201 116 L174.7 160.2"/>
<path d="M235 138.6 L219.5 168.5"/>
<path d="M305.7 108 L299.9 161"/>
<path d="M346 84.6 L350.6 133"/>
<path d="M385 59.6 L399 94"/>
<path d="M427.4 32.2 L440.6 58.5"/>
<path d="M648.7 164.7 L632.5 189.5"/>
<path d="M402.9 231.4 L344.6 254.3"/>
<path d="M354.6 207 L312.2 235.2"/>
<path d="M70.4 246.7 L109.3 274.6"/>
<path d="M23 277 L66.8 305"/>
<path d="M232.5 334 L263.7 310.9"/>
<path d="M265.5 350 L291 324.6"/>
<path d="M304 371.2 L329.6 346.8"/>
<path d="M340 394.3 L355.3 371.2"/>
<path d="M377.9 411 L393.4 390.8"/>
<path d="M422 433.7 L449.4 412.3"/>
<path d="M204 523 L161.3 509.8"/>
<!-- brackets -->
<path d="M499.9 17.6 L512.4 17.6 L515.8 467.9 L504.2 467.9"/>
<path d="M515 259.3 L539 259"/>
<path d="M107.6 318.5 L107.6 327.1 L229.8 370 L237.9 362.4"/>
<path d="M166 348.3 L141 400"/>
</g>
<g class="wm" style="mix-blend-mode:darken">
<text transform="translate(205.5 300) scale(0.987 1)" x="0" y="0" vector-effect="non-scaling-stroke">A</text>
<text transform="translate(251.3 300) scale(0.965 1)" x="0" y="0" vector-effect="non-scaling-stroke">u</text>
<text transform="translate(317.7 300) scale(0.962 1)" x="0" y="0" vector-effect="non-scaling-stroke">o</text>
<text transform="translate(358.5 300) scale(0.830 1)" x="0" y="0" vector-effect="non-scaling-stroke">S</text>
<text transform="translate(400.7 300) scale(0.962 1)" x="0" y="0" vector-effect="non-scaling-stroke">o</text>
<path d="M298.5 253.5 L305.7 251.5 L305.7 258.8 L318.5 258.8 L318.5 265.2 L305.7 265.2 L305.7 289 Q305.7 294.6 311.3 294.6 L318.8 294.6 L318.8 300.8 Q315.0 301.6 311.0 301.6 Q298.5 301.6 298.5 290 L298.5 265.2 L293.2 265.2 L293.2 258.8 L298.5 258.8 Z"/>
<path d="M448.5 300.5 L448.5 265.2 L444 265.2 L444 258.8 L448.5 258.8 L448.5 254 Q448.5 242.1 460.5 242.1 Q465.5 242.1 469.7 243.3 L469 249.4 Q465.5 248.4 461.5 248.4 Q455.6 248.4 455.6 255 L455.6 258.8 L467 258.8 L467 265.2 L455.6 265.2 L455.6 300.5 Z"/>
<path d="M472.3 249.2 L479.5 247.2 L479.5 258.8 L492.3 258.8 L492.3 265.2 L479.5 265.2 L479.5 289 Q479.5 294.6 485.1 294.6 L492.6 294.6 L492.6 300.8 Q488.8 301.6 484.8 301.6 Q472.3 301.6 472.3 290 L472.3 265.2 L467.0 265.2 L467.0 258.8 L472.3 258.8 Z"/>
</g>
</svg>
</body></html>
